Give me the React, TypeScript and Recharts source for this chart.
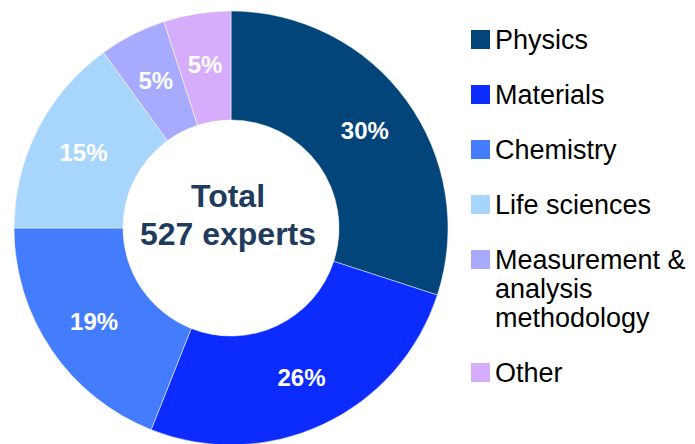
import { Pie, PieChart, Cell, Legend, Label } from 'recharts';

const FONT = '"Liberation Sans", Arial, Helvetica, sans-serif';

const categories = ['Physics', 'Materials', 'Chemistry', 'Life sciences', 'Measurement & analysis methodology', 'Other'];
const shares = [30, 26, 19, 15, 5, 5];
const colors = ['#02457a', '#0c2cff', '#437dfd', '#a8d5fc', '#a8abfd', '#d5adfb'];
const totalExperts = 527;

const data = categories.map((name, i) => ({ name, value: shares[i] }));

const PIE_CX = 231;
const PIE_CY = 228;
const RAD = Math.PI / 180;

function renderShare(props: any) {
  const { cx, cy, midAngle, innerRadius, outerRadius, value } = props;
  const r = (innerRadius + outerRadius) / 2 + 3;
  const x = cx + r * Math.cos(-midAngle * RAD);
  const y = cy + r * Math.sin(-midAngle * RAD);
  return (
    <text x={x} y={y + 8.5} textAnchor="middle" fill="#ffffff" fontSize={24} fontWeight={700} fontFamily={FONT}>
      {value}%
    </text>
  );
}

function CenterText({ viewBox }: any) {
  const cx = viewBox && typeof viewBox.cx === 'number' ? viewBox.cx : PIE_CX;
  const cy = viewBox && typeof viewBox.cy === 'number' ? viewBox.cy : PIE_CY;
  return (
    <text textAnchor="middle" fill="#1f3b5e" fontSize={32} fontWeight={700} fontFamily={FONT}>
      <tspan x={cx - 3} y={cy - 21}>Total</tspan>
      <tspan x={cx - 3} y={cy + 17}>{totalExperts} experts</tspan>
    </text>
  );
}

function LegendList() {
  return (
    <div style={{ fontFamily: FONT, fontSize: 27, lineHeight: '29px', color: '#000' }}>
      {categories.map((name, i) => (
        <div key={name} style={{ display: 'flex', alignItems: 'flex-start', marginBottom: 26 }}>
          <span style={{ width: 19, height: 19, marginTop: 4, marginRight: 5, flex: 'none', backgroundColor: colors[i] }} />
          <span style={{ width: 198 }}>{name}</span>
        </div>
      ))}
    </div>
  );
}

export default function App() {
  return (
    <div style={{ width: 695, height: 444, background: '#fff' }}>
      <style>{'body{margin:0}'}</style>
      <PieChart width={695} height={444} margin={{ top: 0, right: 0, bottom: 0, left: 0 }}>
        <Pie
          data={data}
          dataKey="value"
          nameKey="name"
          cx={PIE_CX}
          cy={PIE_CY}
          innerRadius={108}
          outerRadius={217}
          startAngle={90}
          endAngle={-270}
          stroke="#ffffff"
          strokeWidth={0.5}
          label={renderShare}
          labelLine={false}
          isAnimationActive={false}
        >
          {data.map((d, i) => (
            <Cell key={d.name} fill={colors[i]} />
          ))}
          <Label position="center" content={CenterText} />
        </Pie>
        <Legend
          layout="vertical"
          align="right"
          verticalAlign="top"
          content={() => <LegendList />}
          wrapperStyle={{ left: 471, right: 'auto', top: 25.6, width: 224 }}
        />
      </PieChart>
    </div>
  );
}
